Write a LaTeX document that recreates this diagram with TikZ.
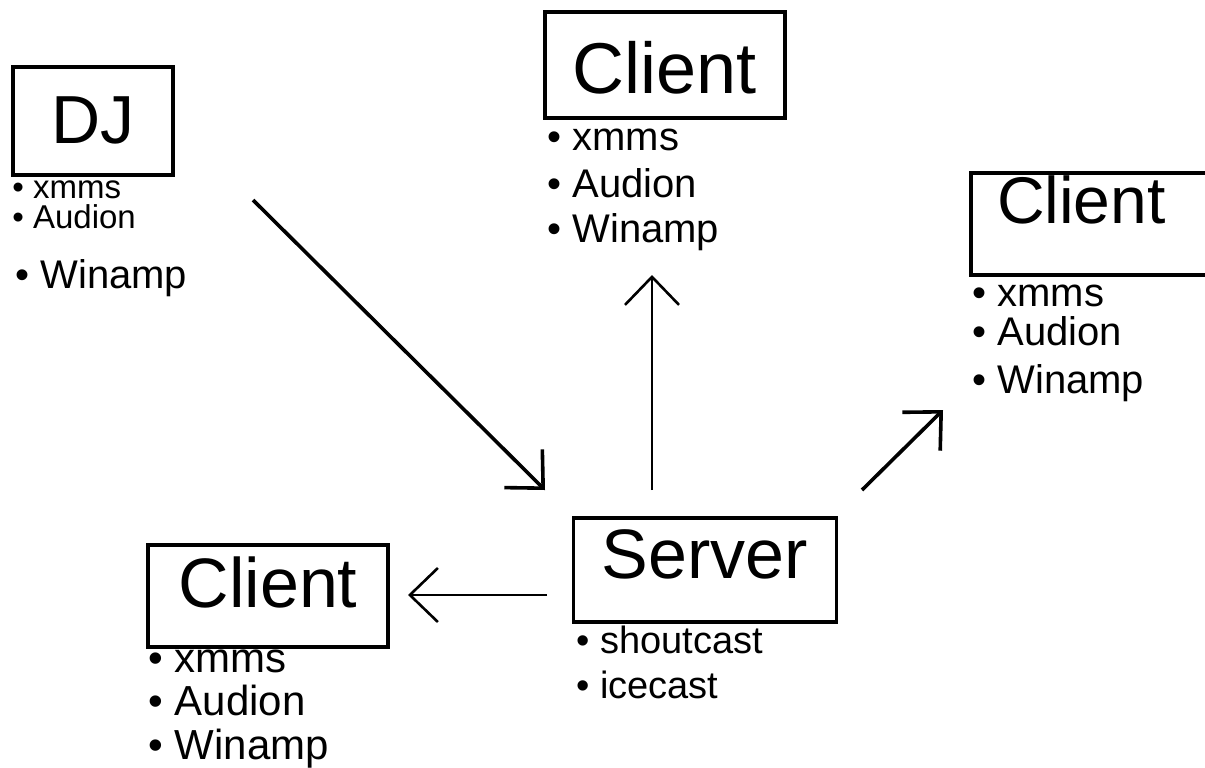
\documentclass[tikz,border=0pt]{standalone}
\usepackage{fontspec}
\setmainfont{Liberation Sans}
\usetikzlibrary{arrows.meta}
\begin{document}
\begin{tikzpicture}[x=0.5pt,y=-0.5pt]
\tikzstyle{box}=[rectangle,draw,line width=1.6pt,inner sep=0pt]
\tikzstyle{item}=[anchor=base west,inner sep=0pt]
\tikzstyle{link}=[-{Straight Barb[length=14pt,width=27pt]},line width=1.8pt]
\tikzstyle{thinLink}=[link,line width=1.3pt]

\useasboundingbox (0,0) rectangle (1205,767);

%the boxes.
\node[box,minimum width=80pt,minimum height=54pt,text height=24pt,text depth=2pt,font=\fontsize{34}{40}\selectfont] (dj) at (93,121) {DJ};
\node[box,minimum width=120pt,minimum height=53pt,text height=28pt,text depth=0pt,font=\fontsize{36}{42}\selectfont] (clientTop) at (665,65) {Client};
\node[box,text width=99pt,inner xsep=13pt,align=left,minimum height=51pt,text height=24pt,text depth=25pt,font=\fontsize{33}{40}\selectfont] (clientRight) at (1096,224) {Client};
\node[box,minimum width=131.5pt,minimum height=52pt,text height=25pt,text depth=17pt,font=\fontsize{35}{42}\selectfont] (server) at (705,570) {Server};
\node[box,minimum width=120pt,minimum height=51pt,text height=25pt,text depth=14pt,font=\fontsize{35}{42}\selectfont] (clientLeft) at (268,596) {Client};

%players and servers.
\node[item,font=\fontsize{16.5}{20}\selectfont] (djXmms) at (12,198) {• xmms};
\node[item,font=\fontsize{16.5}{20}\selectfont] (djAudion) at (12,228) {• Audion};
\node[item,font=\fontsize{20}{24}\selectfont] (djWinamp) at (15,288) {• Winamp};

\node[item,font=\fontsize{20}{24}\selectfont] (topXmms) at (547,150) {• xmms};
\node[item,font=\fontsize{20}{24}\selectfont] (topAudion) at (547,197) {• Audion};
\node[item,font=\fontsize{20}{24}\selectfont] (topWinamp) at (547,242) {• Winamp};

\node[item,font=\fontsize{20}{24}\selectfont] (rightXmms) at (972,306) {• xmms};
\node[item,font=\fontsize{20}{24}\selectfont] (rightAudion) at (972,345) {• Audion};
\node[item,font=\fontsize{20}{24}\selectfont] (rightWinamp) at (972,393) {• Winamp};

\node[item,font=\fontsize{19}{23}\selectfont] (srvShout) at (576,653) {• shoutcast};
\node[item,font=\fontsize{19}{23}\selectfont] (srvIce) at (576,698) {• icecast};

\node[item,font=\fontsize{21}{25}\selectfont] (leftXmms) at (148,672) {• xmms};
\node[item,font=\fontsize{21}{25}\selectfont] (leftAudion) at (148,715) {• Audion};
\node[item,font=\fontsize{21}{25}\selectfont] (leftWinamp) at (148,759) {• Winamp};

%arrow ends.
\coordinate (djOut) at (253,200);
\coordinate (srvIn) at (545,490);
\coordinate (srvUp) at (652,490);
\coordinate (topIn) at (652,275);
\coordinate (srvRight) at (862,490);
\coordinate (rightIn) at (943,410);
\coordinate (srvLeft) at (547,595);
\coordinate (leftIn) at (408,595);

\draw[link] (djOut) -- (srvIn);
\draw[thinLink] (srvUp) -- (topIn);
\draw[link] (srvRight) -- (rightIn);
\draw[thinLink] (srvLeft) -- (leftIn);

\end{tikzpicture}
\end{document}
